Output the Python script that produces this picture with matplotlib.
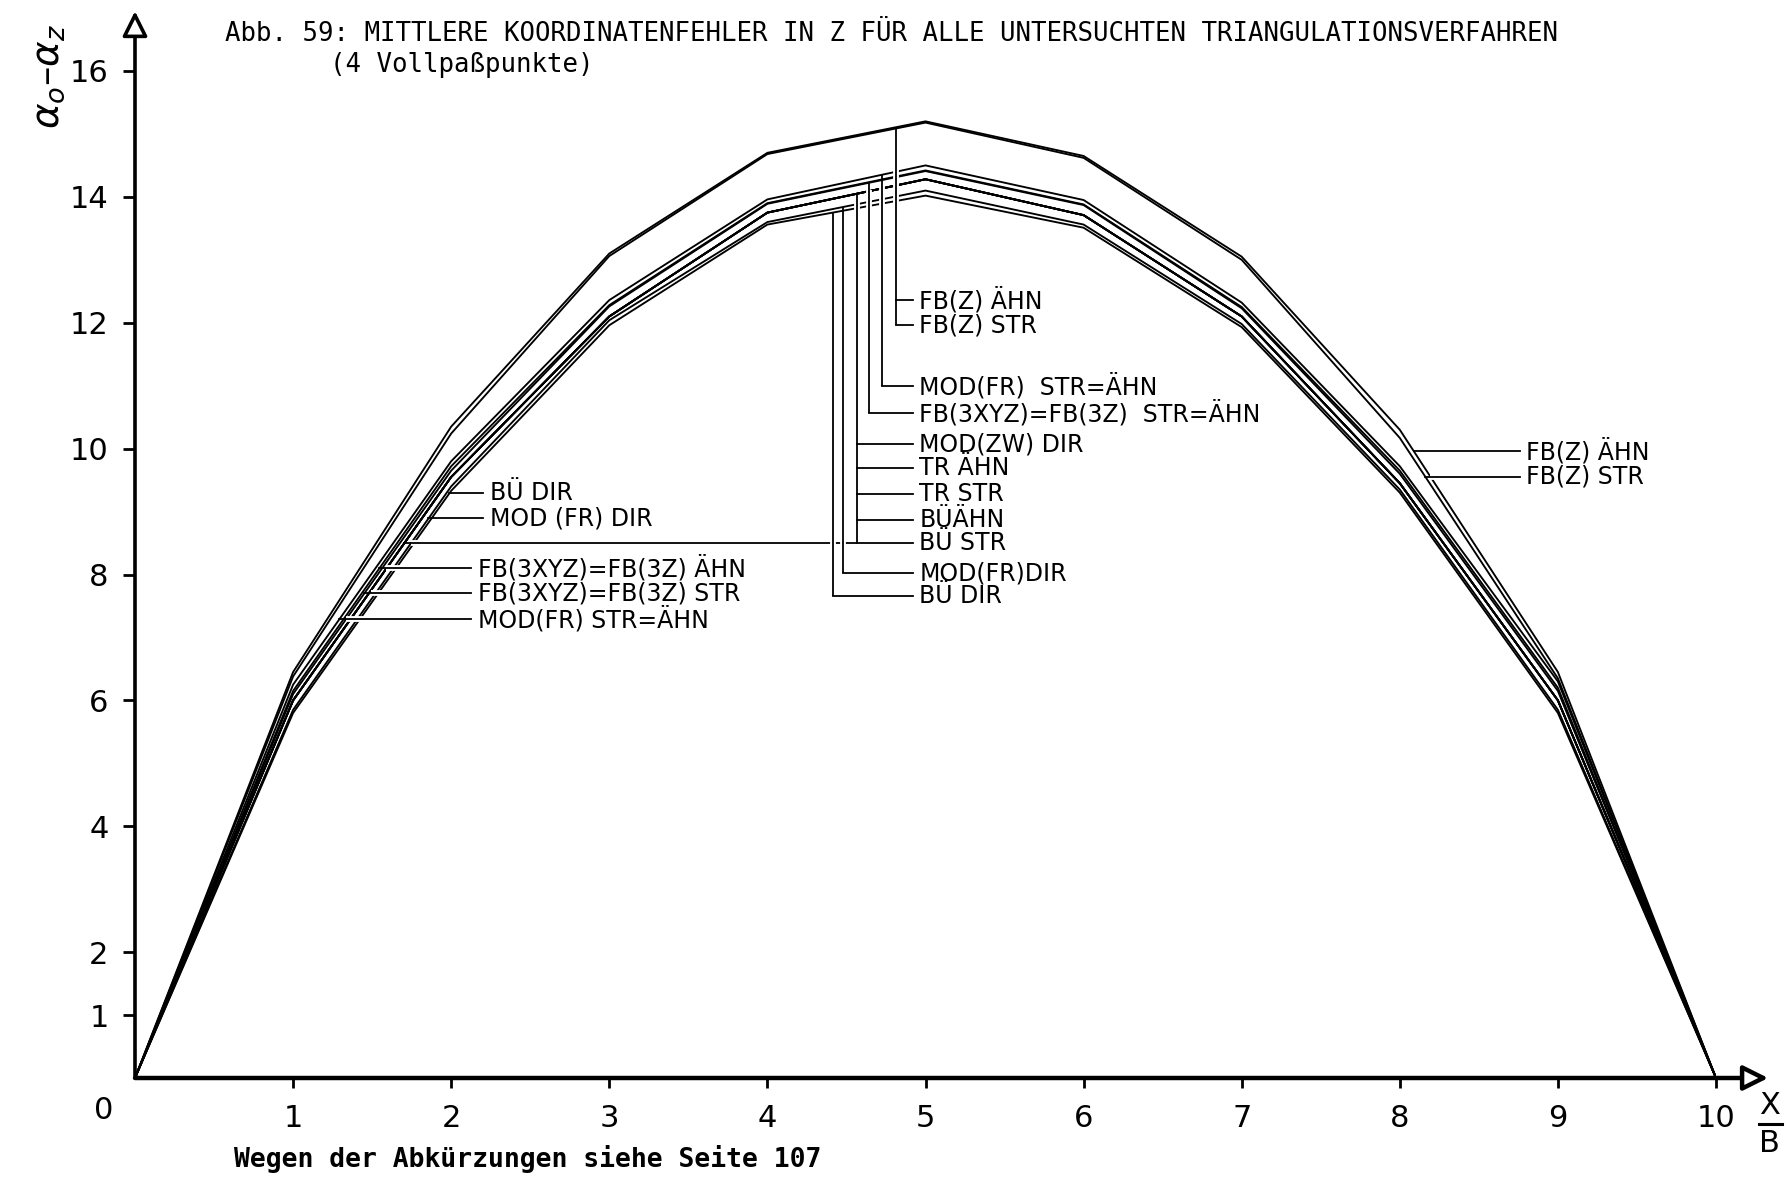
import numpy as np
import matplotlib
matplotlib.use("Agg")
import matplotlib.pyplot as plt
from matplotlib import font_manager as fm

# ---------------------------------------------------------------- data
x_b = np.arange(0, 11)  # X/B

fbz_aehn  = [0, 6.45, 10.35, 13.10, 14.70, 15.20, 14.65, 13.05, 10.30, 6.45, 0]
fbz_str   = [0, 6.38, 10.24, 13.06, 14.68, 15.18, 14.62, 13.00, 10.17, 6.35, 0]
modfr_str = [0, 6.25, 9.80, 12.36, 13.96, 14.50, 13.95, 12.32, 9.72, 6.30, 0]
fb3_aehn  = [0, 6.15, 9.72, 12.28, 13.90, 14.42, 13.88, 12.25, 9.65, 6.20, 0]
fb3_str   = [0, 6.10, 9.65, 12.26, 13.89, 14.41, 13.87, 12.23, 9.60, 6.15, 0]
modzw_dir = [0, 6.00, 9.55, 12.10, 13.75, 14.28, 13.71, 12.10, 9.45, 6.00, 0]
tr_aehn   = [0, 6.00, 9.55, 12.10, 13.75, 14.28, 13.71, 12.10, 9.45, 6.00, 0]
tr_str    = [0, 6.00, 9.55, 12.10, 13.75, 14.28, 13.71, 12.10, 9.45, 6.00, 0]
bue_aehn  = [0, 6.00, 9.55, 12.10, 13.75, 14.28, 13.71, 12.10, 9.45, 6.00, 0]
bue_str   = [0, 6.00, 9.55, 12.10, 13.75, 14.28, 13.71, 12.10, 9.45, 6.00, 0]
modfr_dir = [0, 5.85, 9.40, 12.04, 13.60, 14.10, 13.56, 11.98, 9.35, 5.85, 0]
bue_dir   = [0, 5.80, 9.33, 11.96, 13.56, 14.02, 13.51, 11.93, 9.30, 5.80, 0]

x_ticks = [1, 2, 3, 4, 5, 6, 7, 8, 9, 10]
y_ticks = [1, 2, 4, 6, 8, 10, 12, 14, 16]

title_1 = "Abb. 59: MITTLERE KOORDINATENFEHLER IN Z FÜR ALLE UNTERSUCHTEN TRIANGULATIONSVERFAHREN"
title_2 = "(4 Vollpaßpunkte)"
footnote = "Wegen der Abkürzungen siehe Seite 107"

all_series = [fbz_aehn, fbz_str, modfr_str, fb3_aehn, fb3_str, modzw_dir,
              tr_aehn, tr_str, bue_aehn, bue_str, modfr_dir, bue_dir]

# ---------------------------------------------------------------- fonts
installed = {f.name for f in fm.fontManager.ttflist}
num_font = "Liberation Sans Narrow" if "Liberation Sans Narrow" in installed else "DejaVu Sans"
num_size = 25 if num_font == "Liberation Sans Narrow" else 22
lab_font = "DejaVu Sans"
lab_size = 17
mono = "DejaVu Sans Mono"

# ---------------------------------------------------------------- figure
W, H = 1791, 1178
fig = plt.figure(figsize=(W / 100, H / 100), dpi=100)
fig.patch.set_facecolor("white")
ax = fig.add_axes([135 / W, (H - 1078) / H, (1716 - 135) / W, (1078 - 71) / H])
ax.set_xlim(0, 10)
ax.set_ylim(0, 16)
for s in ax.spines.values():
    s.set_visible(False)
ax.set_facecolor("none")

ax.set_xticks(x_ticks)
ax.set_xticklabels([str(v) for v in x_ticks])
ax.set_yticks(y_ticks)
ax.set_yticklabels([str(v) for v in y_ticks])
ax.tick_params(axis="x", direction="out", length=7, width=2, pad=12,
               labelsize=num_size, colors="black")
ax.tick_params(axis="y", direction="out", length=9, width=2, pad=10,
               labelsize=num_size, colors="black")
for t in ax.get_xticklabels() + ax.get_yticklabels():
    t.set_fontfamily(num_font)

# axes with open arrow heads
arrow_kw = dict(arrowstyle="-|>", fc="white", ec="black", lw=2.6,
                mutation_scale=38, shrinkA=0, shrinkB=0)
ax.annotate("", xy=(0, 16.95), xytext=(0, 0), arrowprops=arrow_kw,
            annotation_clip=False, zorder=6)
ax.annotate("", xy=(10.33, 0), xytext=(0, 0),
            arrowprops=dict(arrow_kw, lw=3.2), annotation_clip=False, zorder=6)

# ---------------------------------------------------------------- curves
for ys in all_series:
    ax.plot(x_b, ys, color="black", lw=1.35, zorder=2, solid_joinstyle="miter")


def y_on(series, x):
    return float(np.interp(x, x_b, series))


def x_rising(series, y):
    v = np.asarray(series, float)
    return float(np.interp(y, v[:6], x_b[:6]))


def x_falling(series, y):
    v = np.asarray(series, float)[5:][::-1]
    return float(np.interp(y, v, x_b[5:][::-1]))


LW = 1.3
GAP = 4.2


def label(x, y, s):
    ax.text(x, y, s, fontsize=lab_size, family=lab_font, va="center",
            ha="left", zorder=5)


# ---------------------------------------------------------------- centre brackets
stub_end_c = 4.92
text_x_c = 4.96


def bracket(xb, series, items):
    y_top = y_on(series, xb)
    ys = [y for y, _ in items]
    y_bot = min(ys)
    ax.plot([xb, xb], [y_top - 0.12, y_bot + 0.12], color="white", lw=GAP,
            solid_capstyle="butt", zorder=3)
    ax.plot([xb, xb], [y_top, y_bot], color="black", lw=LW,
            solid_capstyle="butt", zorder=4)
    for y, s in items:
        ax.plot([xb, stub_end_c], [y, y], color="black", lw=LW, zorder=4)
        label(text_x_c, y, s)


bracket(4.813, fbz_aehn, [(12.36, "FB(Z) ÄHN"), (11.96, "FB(Z) STR")])
bracket(4.725, modfr_str, [(10.99, "MOD(FR)  STR=ÄHN")])
bracket(4.643, fb3_aehn, [(10.56, "FB(3XYZ)=FB(3Z)  STR=ÄHN")])
bracket(4.567, modzw_dir, [(10.07, "MOD(ZW) DIR"), (9.70, "TR ÄHN"),
                           (9.28, "TR STR"), (8.86, "BÜÄHN"), (8.50, "BÜ STR")])
bracket(4.478, modfr_dir, [(8.02, "MOD(FR)DIR")])
bracket(4.415, bue_dir, [(7.66, "BÜ DIR")])

# long leader from the rising branch to the centre bracket
y_long = 8.50
x0_long = x_rising(modzw_dir, y_long)
ax.plot([x0_long + 0.04, 4.567], [y_long, y_long], color="white", lw=GAP,
        solid_capstyle="butt", zorder=2.4)
ax.plot([x0_long, 4.567], [y_long, y_long], color="black", lw=LW, zorder=2.5)

# ---------------------------------------------------------------- left leaders
left_items = [(bue_dir, 9.29, "BÜ DIR", 2.245),
              (modfr_dir, 8.89, "MOD (FR) DIR", 2.245),
              (fb3_aehn, 8.10, "FB(3XYZ)=FB(3Z) ÄHN", 2.17),
              (fb3_str, 7.70, "FB(3XYZ)=FB(3Z) STR", 2.17),
              (modfr_str, 7.29, "MOD(FR) STR=ÄHN", 2.17)]
for series, y, s, tx in left_items:
    x0 = x_rising(series, y)
    x1 = tx - 0.045
    ax.plot([x0 + 0.04, x1], [y, y], color="white", lw=GAP,
            solid_capstyle="butt", zorder=3)
    ax.plot([x0, x1], [y, y], color="black", lw=LW, zorder=4)
    label(tx, y, s)

# ---------------------------------------------------------------- right leaders
stub_end_r = 8.76
text_x_r = 8.80
right_items = [(fbz_aehn, 9.96, "FB(Z) ÄHN"),
               (fbz_str, 9.55, "FB(Z) STR")]
for series, y, s in right_items:
    x0 = x_falling(series, y)
    ax.plot([x0 + 0.03, stub_end_r], [y, y], color="white", lw=GAP,
            solid_capstyle="butt", zorder=3)
    ax.plot([x0, stub_end_r], [y, y], color="black", lw=LW, zorder=4)
    label(text_x_r, y, s)

# ---------------------------------------------------------------- axis texts
ax.text(-0.20, -0.51, "0", fontsize=num_size, family=num_font,
        ha="center", va="center", clip_on=False)
ax.text(10.34, -0.44, "X", fontsize=num_size, family=num_font,
        ha="center", va="center", clip_on=False)
ax.text(10.34, -1.04, "B", fontsize=num_size, family=num_font,
        ha="center", va="center", clip_on=False)
ax.plot([10.27, 10.415], [-0.73, -0.73], color="black", lw=2.2, clip_on=False)

fig.text(48 / W, 1 - 76 / H, r"$\alpha_o$–$\alpha_z$", rotation=90,
         fontsize=28, ha="center", va="center", family="DejaVu Sans")

fig.text(225 / W, 1 - 34 / H, title_1, family=mono, fontsize=18.5,
         ha="left", va="center")
fig.text(330 / W, 1 - 65 / H, title_2, family=mono, fontsize=18.5,
         ha="left", va="center")
fig.text(234 / W, 1 - 1159 / H, footnote, family=mono, fontsize=19,
         fontweight="bold", ha="left", va="center")

fig.savefig("out.png", dpi=100, facecolor="white")
